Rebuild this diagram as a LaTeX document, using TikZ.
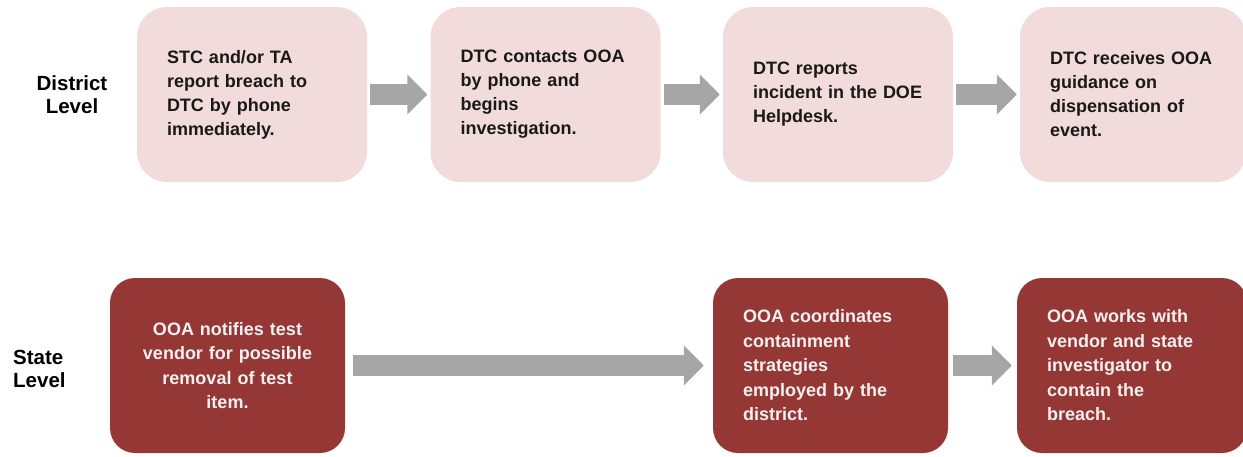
\documentclass[tikz,border=0pt]{standalone}
\usepackage{fontspec}
\setmainfont{Liberation Sans}
\usetikzlibrary{arrows.meta}
\definecolor{distfill}{HTML}{F2DCDB}
\definecolor{statefill}{HTML}{953735}
\definecolor{arrowgray}{HTML}{A6A6A6}
\definecolor{statetext}{HTML}{F4F0F0}
\begin{document}
\begin{tikzpicture}[x=1pt, y=-1pt,
    levellabel/.style={font=\bfseries\fontsize{20.5}{23}\selectfont, inner sep=0pt},
    distbox/.style={fill=distfill, rounded corners=30pt, minimum height=175pt,
        text width=170pt, inner xsep=30pt, align=left, text=black!90,
        font=\bfseries\fontsize{18}{24}\selectfont},
    statebox/.style={fill=statefill, rounded corners=25pt, minimum height=175pt,
        text width=175pt, inner xsep=30pt, align=left, text=statetext,
        font=\bfseries\fontsize{18}{24.5}\selectfont},
    blockarrow/.style={draw=arrowgray, line width=20.5pt,
        -{Triangle[length=20pt, width=39pt]}, arrowgray}]
    \useasboundingbox (0,0) rectangle (1243,456);

    % Level labels
    \node[levellabel, align=center] (district) at (72,95) {District\\Level};
    \node[levellabel, align=left, anchor=west] (state) at (13,369) {State\\Level};

    % District level
    \node[distbox] (d1) at (252,94.5) {STC and/or TA\\report breach to\\DTC by phone\\immediately.};
    \node[distbox] (d2) at (545.5,94.5) {DTC contacts OOA\\by phone and\\begins\\investigation.};
    \node[distbox] (d3) at (838,94.5) {DTC reports\\incident in the DOE\\Helpdesk.};
    \node[distbox, text width=166pt] (d4) at (1133,94.5) {DTC receives OOA\\guidance on\\dispensation of\\event.\\[7pt]};

    \foreach \from/\to in {d1/d2,d2/d3,d3/d4} {
        \draw[blockarrow, shorten <=3pt, shorten >=3pt] (\from) -- (\to);
    }

    % State level
    \node[statebox, align=center] (s1) at (227.5,365.5) {OOA notifies test\\vendor for possible\\removal of test\\item.};
    \node[statebox] (s2) at (830.5,365.5) {OOA coordinates\\containment\\strategies\\employed by the\\district.};
    \node[statebox, text width=170pt] (s3) at (1132,365.5) {OOA works with\\vendor and state\\investigator to\\contain the\\breach.};

    \draw[blockarrow, shorten <=8pt, shorten >=9pt] (s1) -- (s2);
    \draw[blockarrow, shorten <=5pt, shorten >=5pt] (s2) -- (s3);
\end{tikzpicture}
\end{document}
